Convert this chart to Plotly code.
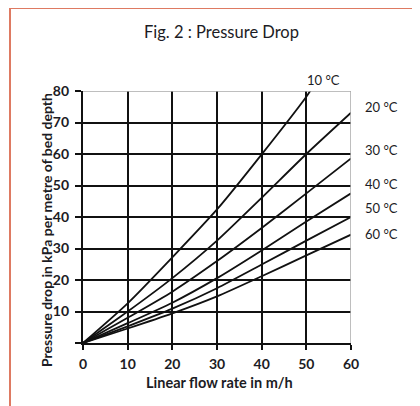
import plotly.graph_objects as go

flow = [0, 10, 20, 30, 40, 50, 60]
flow_10c = [0, 10, 20, 30, 40, 50, 51]
dp_10c = [0, 12.6, 27.2, 42.4, 59.9, 78.2, 80.3]
dp_20c = [0, 10.0, 20.6, 32.5, 46.1, 60.0, 73.1]
dp_30c = [0, 8.0, 16.3, 26.0, 36.5, 47.5, 58.6]
dp_40c = [0, 6.3, 12.8, 20.6, 29.4, 38.6, 47.5]
dp_50c = [0, 5.3, 10.9, 17.4, 24.9, 32.5, 40.0]
dp_60c = [0, 4.6, 9.4, 14.8, 21.2, 27.8, 34.4]
series_names = ["10 °C", "20 °C", "30 °C", "40 °C", "50 °C", "60 °C"]
x_ticks = [0, 10, 20, 30, 40, 50, 60]
y_ticks = [10, 20, 30, 40, 50, 60, 70, 80]

OFF = 8  # page body margin
W, H = 420 - OFF, 406 - OFF
# plot area in page pixels
L, R, T, B = 83, 351, 91, 343


def px(x):
    return (x - L) / (R - L)


def py(y):
    return (B - y) / (B - T)


FONT = "Lato"
TXT = "#1c1c24"

fig = go.Figure()
series = [(flow_10c, dp_10c), (flow, dp_20c), (flow, dp_30c),
          (flow, dp_40c), (flow, dp_50c), (flow, dp_60c)]
for (xs, ys), name in zip(series, series_names):
    fig.add_trace(go.Scatter(x=xs, y=ys, mode="lines", name=name,
                             line=dict(color="#111111", width=1.8, shape="spline", smoothing=0.6),
                             showlegend=False, hoverinfo="skip"))

label_pos = [(323, 80), (381, 107), (381, 150), (381, 184), (381, 208), (381, 234)]
annotations = []
for name, (lx, ly) in zip(series_names, label_pos):
    annotations.append(dict(text=name, x=px(lx), y=py(ly), xref="paper", yref="paper",
                            showarrow=False, xanchor="center", yanchor="middle",
                            font=dict(family=FONT, size=13, color=TXT)))
annotations.append(dict(text="Fig. 2 : Pressure Drop", x=px(221), y=py(32), xref="paper", yref="paper",
                        showarrow=False, xanchor="center", yanchor="middle",
                        font=dict(family=FONT, size=16.5, color=TXT)))
annotations.append(dict(text="<b>Linear flow rate in m/h</b>", x=px(219), y=py(383), xref="paper", yref="paper",
                        showarrow=False, xanchor="center", yanchor="middle",
                        font=dict(family=FONT, size=14.5, color=TXT)))
annotations.append(dict(text="<b>Pressure drop in kPa per metre of bed depth</b>", x=px(46), y=py(230),
                        xref="paper", yref="paper", textangle=-90,
                        showarrow=False, xanchor="center", yanchor="middle",
                        font=dict(family=FONT, size=14, color=TXT)))

shapes = [
    dict(type="rect", xref="paper", yref="paper", x0=px(10), x1=px(440), y0=py(440), y1=py(8),
         line=dict(color="#de7a62", width=2), fillcolor="rgba(0,0,0,0)", layer="below"),
    dict(type="line", xref="x", yref="y", x0=0, x1=60, y0=80, y1=80,
         line=dict(color="#a8a8a8", width=1.5), layer="above"),
    dict(type="line", xref="x", yref="y", x0=60, x1=60, y0=0, y1=80,
         line=dict(color="#a8a8a8", width=1.5), layer="above"),
]

fig.update_layout(
    width=W, height=H,
    margin=dict(l=L - OFF, r=W - (R - OFF), t=T - OFF, b=H - (B - OFF), autoexpand=False),
    paper_bgcolor="white", plot_bgcolor="white",
    annotations=annotations, shapes=shapes,
    xaxis=dict(range=[0, 60], tickvals=x_ticks, ticktext=[str(v) for v in x_ticks],
               showgrid=True, gridcolor="#111111", gridwidth=1.6,
               showline=True, linecolor="#111111", linewidth=2.2, zeroline=False,
               ticks="outside", ticklen=5, tickwidth=1.8, tickcolor="#111111",
               ticklabelstandoff=2, automargin=False,
               tickfont=dict(family=FONT, size=14, color=TXT, weight="bold")),
    yaxis=dict(range=[0, 80], tickvals=[0] + y_ticks, ticktext=[""] + [str(v) for v in y_ticks],
               showgrid=True, gridcolor="#111111", gridwidth=1.6,
               showline=True, linecolor="#111111", linewidth=2.2, zeroline=False,
               ticks="outside", ticklen=6, tickwidth=1.8, tickcolor="#111111",
               ticklabelstandoff=3, automargin=False,
               tickfont=dict(family=FONT, size=14, color=TXT, weight="bold")),
)

fig.write_html("out.html")
